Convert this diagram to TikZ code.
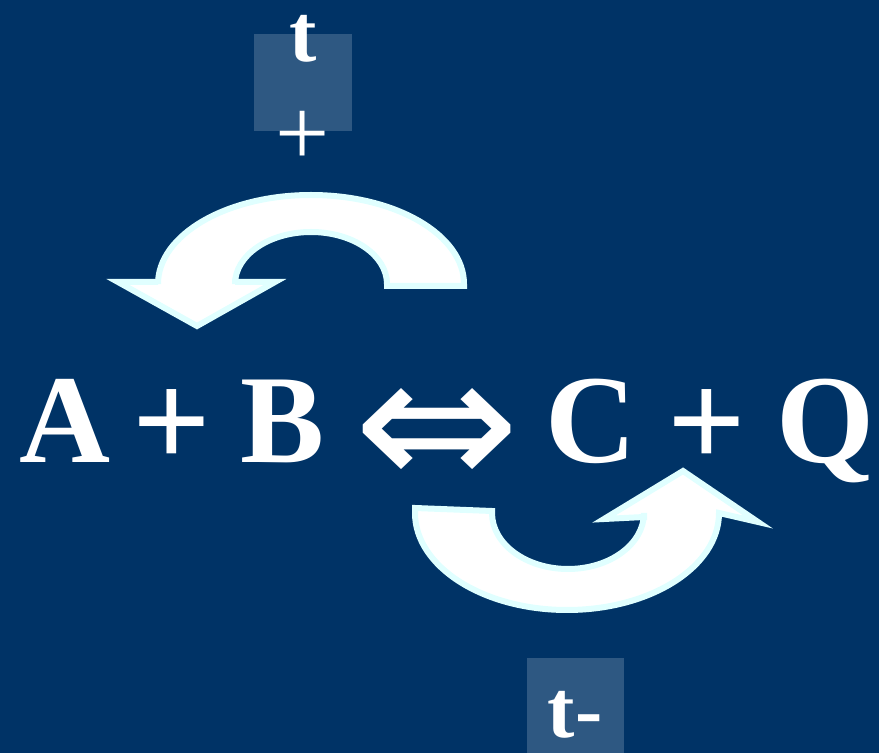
\documentclass[tikz,border=0pt]{standalone}
\usepackage{fontspec}
\setmainfont{Liberation Serif}
\newfontfamily\symfont{DejaVu Sans}
\usepackage{graphicx}
\definecolor{bg}{HTML}{003366}
\definecolor{edgecol}{HTML}{E0FFFF}
\colorlet{sq}{white!18!bg}
\tikzset{
  eq/.style={text=white, font=\fontsize{126}{126}\selectfont\bfseries, inner sep=0pt, anchor=base},
  eqplus/.style={text=white, font=\fontsize{138}{138}\selectfont\bfseries, inner sep=0pt, anchor=base},
  small/.style={text=white, font=\fontsize{82}{82}\selectfont\bfseries, inner sep=0pt, anchor=base, text height=55pt, text depth=0pt},
  smallreg/.style={text=white, font=\fontsize{96}{96}\selectfont, inner sep=0pt, anchor=base, text height=50pt, text depth=0pt},
  sqbox/.style={fill=sq, inner sep=0pt, anchor=south west},
  bigarrow/.style={fill=white, draw=edgecol, line width=6pt, line join=miter}
}
\begin{document}
\begin{tikzpicture}[x=1pt,y=1pt]
\useasboundingbox (0,0) rectangle (879,753);
\fill[bg] (0,0) rectangle (879,753);
% squares
\node[sqbox, minimum width=98pt, minimum height=97pt] (sqtop) at (254,622) {};
\node[sqbox, minimum width=97pt, minimum height=95pt] (sqbot) at (527,0) {};
% top curved arrow
\path[bigarrow, shift={(311,469)}]
  (153,-2) -- (153,0) arc[start angle=0,end angle=180,x radius=153,y radius=89]
  -- (-153,2) -- (-193,2) -- (-114,-42) -- (-36,2) -- (-76,2) -- (-76,0)
  arc[start angle=180,end angle=0,x radius=76,y radius=52] -- (76,-2) -- cycle;
% bottom curved arrow
\path[bigarrow, shift={(567,240)}]
  (-75,2) -- (-152,5) -- (-152,0) arc[start angle=180,end angle=360,x radius=152,y radius=97]
  -- (191,-9) -- (116,42) -- (37,-6) -- (77,-4) -- (77,0)
  arc[start angle=0,end angle=-180,x radius=76,y radius=56] -- cycle;
% equation
\node[eq] (A) at (65,290) {A};
\node[eqplus] (p1) at (172,285) {+};
\node[eq] (B) at (283,290) {B};
\node[text=white, inner sep=0pt] (eqv) at (437,315) {\resizebox{167pt}{100pt}{\symfont ⇔}};
\node[eq] (C) at (591,290) {C};
\node[eqplus] (p2) at (707,285) {+};
\node[eq] (Q) at (825,290) {Q};
% labels
\node[small] (tplus) at (303,691) {t};
\node[smallreg] (plus) at (303,587) {+};
\node[small] (tminus) at (575,15) {t-};
\end{tikzpicture}
\end{document}
